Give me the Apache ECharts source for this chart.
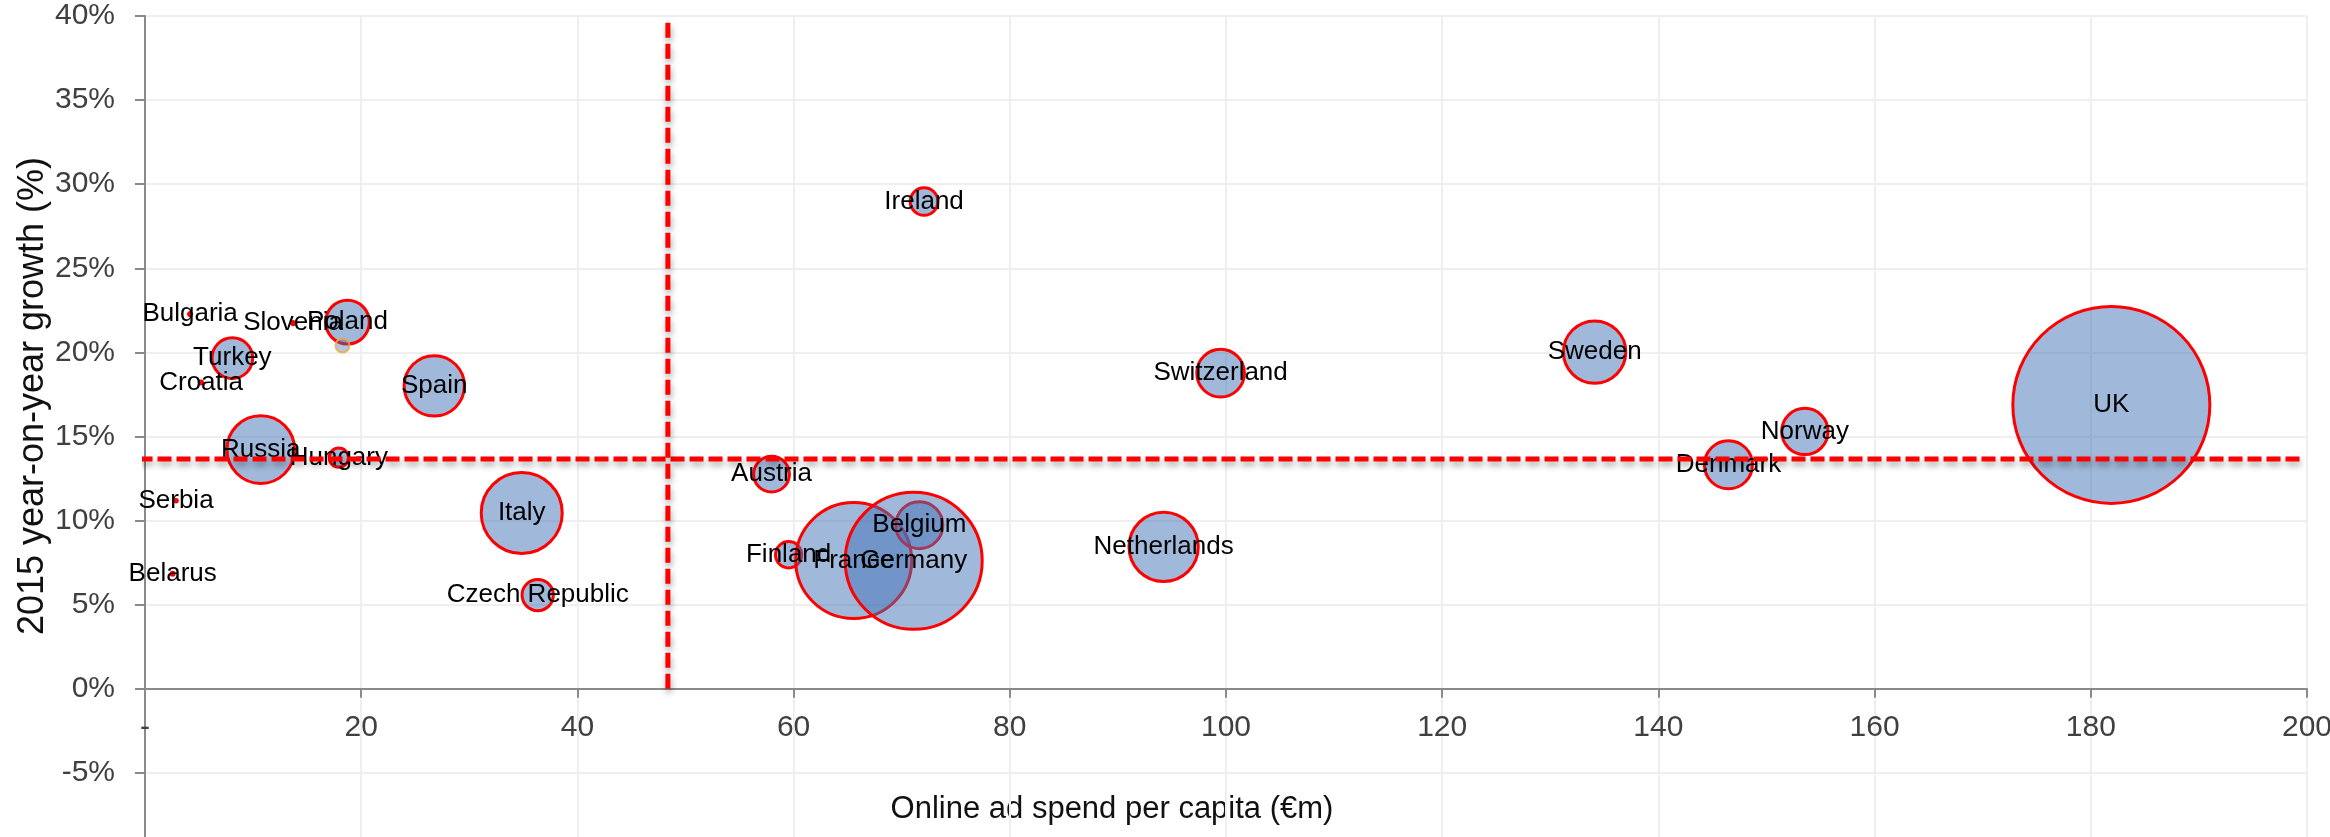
<!DOCTYPE html>
<html>
<head>
<meta charset="utf-8">
<script src="https://cdn.jsdelivr.net/npm/echarts@6/dist/echarts.min.js"></script>
<style>
html,body{margin:0;padding:0;background:#fff;}
#chart{width:2330px;height:837px;}
</style>
</head>
<body>
<div id="chart"></div>
<script>
// ---- data ----
var countries = ['Bulgaria','Slovenia','Croatia','Serbia','Belarus','Turkey','Poland','Hungary','Russia','Spain','Italy','Czech Republic','Ireland','Austria','Finland','France','Belgium','Germany','Netherlands','Switzerland','Sweden','Denmark','Norway','UK'];
var spendPerCapita = [4.17,13.7,5.19,2.87,2.56,8.08,18.73,17.93,10.71,26.76,34.85,36.33,72.07,57.96,59.54,65.56,71.63,71.11,94.23,99.5,134.1,146.48,153.55,181.9];
var growth = [22.28,21.74,18.21,11.18,6.84,19.66,21.8,13.75,14.22,18.01,10.45,5.57,28.97,12.76,7.97,7.63,9.73,7.61,8.44,18.77,20.02,13.32,15.30,16.88];
var marketSize = [3,3,2.5,2,2.5,504,581,113,1394,1106,1995,298,233,388,210,4091,672,5707,1460,692,1180,701,652,11800];
// unlabelled highlighted point
var extraPoint = [18.27, 20.41, 60];
// average thresholds
var avgSpend = 48.37;
var avgGrowth = 13.66;
var xTicks = [0,20,40,60,80,100,120,140,160,180,200];
var yMin = -10, yMax = 40;

var K = 197 / Math.sqrt(11800);
var bubbleData = countries.map(function(c, i){
  return [spendPerCapita[i], growth[i], marketSize[i], c];
});

var font = "'Liberation Sans', Arial, Helvetica, sans-serif";
var dashShadow = {shadowColor:'rgba(0,0,0,0.35)', shadowBlur:6, shadowOffsetX:1, shadowOffsetY:4};

var gridTop = 16, gridHeight = 841;
// pixel distance from bottom edge of grid to the zero line
var zeroOffset = gridHeight * (0 - yMin) / (yMax - yMin);

var chart = echarts.init(document.getElementById('chart'), null, {renderer:'canvas'});
chart.setOption({
  animation:false,
  backgroundColor:'#ffffff',
  textStyle:{fontFamily:font},
  grid:{left:145, top:gridTop, width:2162, height:gridHeight, containLabel:false, outerBoundsMode:'none'},
  xAxis:{
    type:'value', min:xTicks[0], max:xTicks[xTicks.length-1], interval:20,
    position:'bottom', offset:-zeroOffset,
    axisLine:{show:true, onZero:false, lineStyle:{color:'#8a8a8a', width:2}},
    axisTick:{show:true, length:9, lineStyle:{color:'#8a8a8a', width:2}},
    axisLabel:{fontSize:30, color:'#404040', margin:24, fontFamily:font,
      formatter:function(v){ return v===0 ? '-' : String(v); }},
    splitLine:{show:true, lineStyle:{color:'#efefef', width:2}}
  },
  yAxis:{
    type:'value', min:yMin, max:yMax, interval:5,
    axisLine:{show:true, onZero:false, lineStyle:{color:'#8a8a8a', width:2}},
    axisTick:{show:true, length:10, lineStyle:{color:'#8a8a8a', width:2}},
    axisLabel:{fontSize:30, color:'#404040', margin:30, fontFamily:font,
      formatter:function(v){ return v + '%'; }},
    splitLine:{show:true, lineStyle:{color:'#efefef', width:2}}
  },
  graphic:[
    {type:'text', x:1112, y:809, silent:true,
     style:{text:'Online ad spend per capita (€m)', fill:'#111', font:'31px ' + font, textAlign:'center', textVerticalAlign:'middle'}},
    {type:'text', x:33, y:396, rotation:Math.PI/2, silent:true,
     style:{text:'2015 year-on-year growth (%)', fill:'#111', font:'36px ' + font, textAlign:'center', textVerticalAlign:'middle'}}
  ],
  series:[
    {
      type:'scatter', name:'countries', z:2,
      data:bubbleData,
      symbolSize:function(d){ return Math.max(2, Math.sqrt(d[2]) * K); },
      itemStyle:{color:'rgba(66,114,182,0.5)', borderColor:'#ff0000', borderWidth:3, opacity:1},
      label:{show:true, position:'inside', formatter:function(p){ return p.data[3]; },
        color:'#000', fontSize:26, fontFamily:font},
      emphasis:{disabled:true}
    },
    {
      type:'scatter', name:'extra', z:3,
      data:[extraPoint],
      symbolSize:function(d){ return Math.sqrt(d[2]) * K; },
      itemStyle:{color:'rgba(66,114,182,0.5)', borderColor:'#f2a93b', borderWidth:2},
      emphasis:{disabled:true}
    },
    {
      type:'line', name:'avgGrowth', z:4, symbol:'none', clip:false, silent:true,
      data:[[-0.6, avgGrowth],[199.4, avgGrowth]],
      lineStyle:Object.assign({color:'#ff0000', width:5, type:[14,5]}, dashShadow)
    },
    {
      type:'line', name:'avgSpend', z:4, symbol:'none', clip:false, silent:true,
      data:[[avgSpend, 0],[avgSpend, 39.6]],
      lineStyle:Object.assign({color:'#ff0000', width:5, type:[15,6]}, dashShadow)
    }
  ]
});
</script>
</body>
</html>
